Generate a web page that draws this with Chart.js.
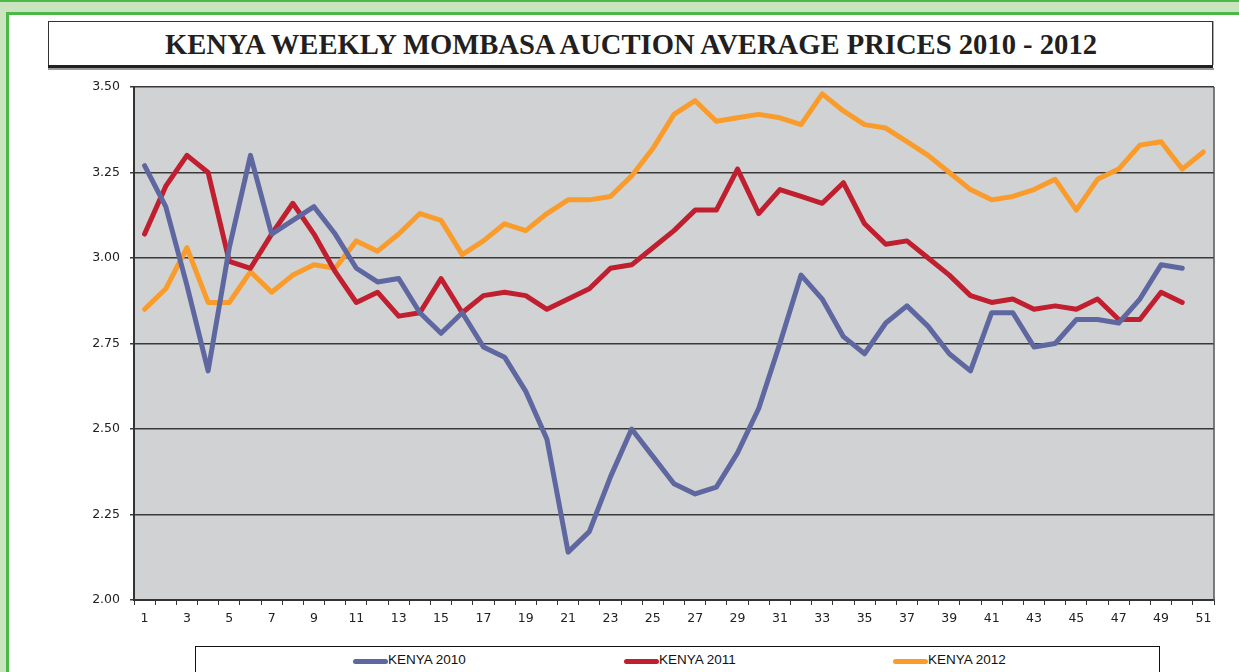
<!DOCTYPE html>
<html>
<head>
<meta charset="utf-8">
<script src="https://cdn.jsdelivr.net/npm/chart.js@4"></script>
<style>
  html, body { margin: 0; padding: 0; background: #ffffff; }
  body { width: 1239px; height: 672px; position: relative; overflow: hidden; }
  .gTop { position: absolute; left: 0; top: 0; width: 1239px; height: 2px; background: #4cb848; }
  .gBand { position: absolute; left: 0; top: 2px; width: 1239px; height: 10px; background: #c9e4bf; }
  .gLine { position: absolute; left: 6px; top: 12px; width: 1233px; height: 3px; background: #4cb848; }
  .gLeftBand { position: absolute; left: 0; top: 12px; width: 6px; height: 660px; background: #c9e4bf; }
  .gLeftLine { position: absolute; left: 6px; top: 12px; width: 3px; height: 660px; background: #4cb848; }
  #titleBox { position: absolute; left: 48px; top: 21px; width: 1163px; height: 43px;
    border: 1px solid #333; border-bottom: none; background: #fff; box-shadow: 1px 0 0 #aaa; }
  #titleBar { position: absolute; left: 48px; top: 65px; width: 1165px; height: 3px; background: #231f20; }
  #titleBar2 { position: absolute; left: 48px; top: 68px; width: 1166px; height: 2px; background: #9a9a9a; }
  #title { position: absolute; left: 0; top: 23px; width: 1239px; height: 42px; }
  #titleText { position: absolute; white-space: nowrap; font-family: "Liberation Serif", "DejaVu Serif", serif;
    font-weight: bold; font-size: 29px; color: #231f20; transform-origin: 0 0; top: 5px; }
  #chartWrap { position: absolute; left: 0; top: 0; width: 1239px; height: 672px; }
  #legendBox { position: absolute; left: 195px; top: 646px; width: 963px; height: 40px;
    border: 1.5px solid #111; background: #fff; }
  .lgLine { position: absolute; height: 5px; border-radius: 3px; top: 12px; }
  .lgText { position: absolute; top: 5px; font-family: "Liberation Sans", Arial, sans-serif; font-size: 13.5px;
    color: #111; white-space: nowrap; }
</style>
</head>
<body>
<div class="gTop"></div>
<div class="gBand"></div>
<div class="gLeftBand"></div>
<div class="gLine"></div>
<div class="gLeftLine"></div>
<div id="titleBox"></div>
<div id="titleBar"></div>
<div id="titleBar2"></div>
<div id="title"><span id="titleText"></span></div>
<div id="chartWrap"><canvas id="c" width="1239" height="672"></canvas></div>
<div id="legendBox"></div>
<script>
const chartTitle = "KENYA WEEKLY MOMBASA AUCTION AVERAGE PRICES 2010 - 2012";
const weeks = ["1","2","3","4","5","6","7","8","9","10","11","12","13","14","15","16","17","18","19","20",
  "21","22","23","24","25","26","27","28","29","30","31","32","33","34","35","36","37","38","39","40",
  "41","42","43","44","45","46","47","48","49","50","51"];
const seriesNames = ["KENYA 2010", "KENYA 2011", "KENYA 2012"];
const seriesColors = ["#5f67a0", "#c01f2f", "#f99c2b"];
const kenya2010 = [3.27,3.15,2.92,2.67,3.03,3.30,3.07,3.11,3.15,3.07,2.97,2.93,2.94,2.84,2.78,2.84,2.74,2.71,2.61,2.47,
  2.14,2.20,2.36,2.50,2.42,2.34,2.31,2.33,2.43,2.56,2.75,2.95,2.88,2.77,2.72,2.81,2.86,2.80,2.72,2.67,
  2.84,2.84,2.74,2.75,2.82,2.82,2.81,2.88,2.98,2.97,null];
const kenya2011 = [3.07,3.21,3.30,3.25,2.99,2.97,3.07,3.16,3.07,2.96,2.87,2.90,2.83,2.84,2.94,2.84,2.89,2.90,2.89,2.85,
  2.88,2.91,2.97,2.98,3.03,3.08,3.14,3.14,3.26,3.13,3.20,3.18,3.16,3.22,3.10,3.04,3.05,3.00,2.95,2.89,
  2.87,2.88,2.85,2.86,2.85,2.88,2.82,2.82,2.90,2.87,null];
const kenya2012 = [2.85,2.91,3.03,2.87,2.87,2.96,2.90,2.95,2.98,2.97,3.05,3.02,3.07,3.13,3.11,3.01,3.05,3.10,3.08,3.13,
  3.17,3.17,3.18,3.24,3.32,3.42,3.46,3.40,3.41,3.42,3.41,3.39,3.48,3.43,3.39,3.38,3.34,3.30,3.25,3.20,
  3.17,3.18,3.20,3.23,3.14,3.23,3.26,3.33,3.34,3.26,3.31];
const yMin = 2.00, yMax = 3.50, yStep = 0.25;

// title
const tt = document.getElementById('titleText');
tt.textContent = chartTitle;
const targetW = 932;
const w = tt.getBoundingClientRect().width;
const sx = targetW / w;
tt.style.transform = 'scaleX(' + sx + ')';
tt.style.left = (631 - targetW / 2) + 'px';

// legend
const legendLeft = [352, 623, 892];
const lb = document.getElementById('legendBox');
seriesNames.forEach((n, i) => {
  const ln = document.createElement('div');
  ln.className = 'lgLine';
  ln.style.left = (legendLeft[i] - 195) + 'px';
  ln.style.width = '35px';
  ln.style.background = seriesColors[i];
  lb.appendChild(ln);
  const tx = document.createElement('div');
  tx.className = 'lgText';
  tx.style.left = (legendLeft[i] - 195 + 35) + 'px';
  tx.textContent = n;
  lb.appendChild(tx);
});

const bgPlugin = {
  id: 'bg',
  beforeDraw(chart) {
    const a = chart.chartArea, ctx = chart.ctx;
    ctx.save();
    ctx.fillStyle = '#d1d2d4';
    ctx.fillRect(a.left, a.top, a.right - a.left, a.bottom - a.top);
    ctx.restore();
  },
  afterDatasetsDraw(chart) {
    const a = chart.chartArea, ctx = chart.ctx;
    ctx.save();
    ctx.strokeStyle = '#555';
    ctx.lineWidth = 1.5;
    ctx.beginPath();
    ctx.moveTo(a.right, a.top);
    ctx.lineTo(a.right, a.bottom + 1);
    ctx.stroke();
    ctx.restore();
  }
};

const datasets = [kenya2010, kenya2011, kenya2012].map((d, i) => ({
  label: seriesNames[i],
  data: d,
  borderColor: seriesColors[i],
  backgroundColor: seriesColors[i],
  borderWidth: 5,
  pointRadius: 0,
  tension: 0,
  borderJoinStyle: 'round',
  borderCapStyle: 'round',
  fill: false
}));

new Chart(document.getElementById('c'), {
  type: 'line',
  data: { labels: weeks, datasets: datasets },
  options: {
    responsive: false,
    animation: false,
    layout: { padding: { left: 0, top: 87, right: 25, bottom: 0 } },
    plugins: { legend: { display: false }, title: { display: false }, tooltip: { enabled: false } },
    scales: {
      x: {
        offset: true,
        grid: { display: true, offset: true, drawOnChartArea: false, drawTicks: true, tickLength: 5,
          color: '#333', lineWidth: 1 },
        border: { display: true, color: '#333', width: 2 },
        ticks: {
          autoSkip: false, maxRotation: 0, minRotation: 0, padding: 6,
          color: '#222', font: { family: 'DejaVu Sans', size: 12.5 },
          callback: function(v, i) { return i % 2 === 0 ? weeks[i] : ''; }
        },
        afterFit(s) { s.height = 72; }
      },
      y: {
        min: yMin, max: yMax,
        grid: { color: '#3a3a3a', lineWidth: 1.5, tickLength: 4, drawTicks: true },
        border: { display: true, color: '#333', width: 2 },
        ticks: {
          stepSize: yStep, padding: 10,
          color: '#222', font: { family: 'DejaVu Sans', size: 12.5 },
          callback: v => Number(v).toFixed(2)
        },
        afterFit(s) { s.width = 134; }
      }
    }
  },
  plugins: [bgPlugin]
});
</script>
</body>
</html>
